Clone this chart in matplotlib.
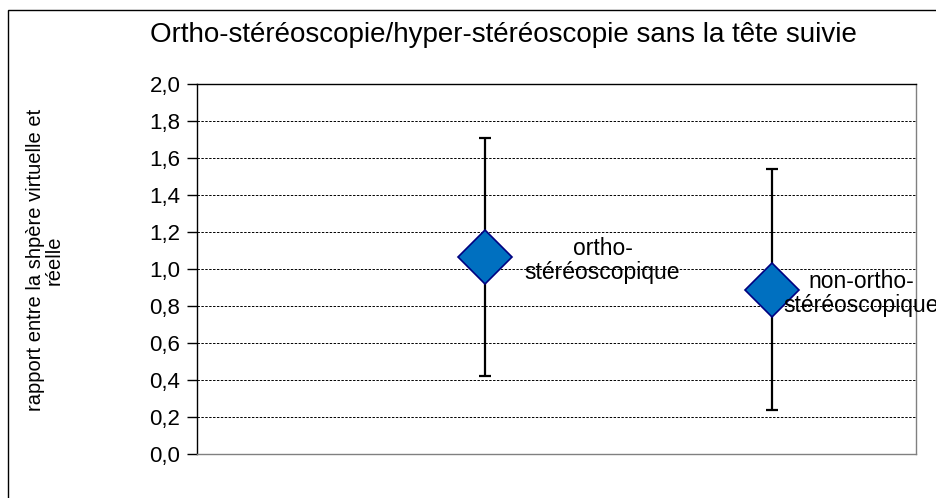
# scatter with error bars: ortho vs non-ortho stereoscopy ratio

import numpy as np
import matplotlib
matplotlib.use("Agg")
import matplotlib.pyplot as plt
from matplotlib.patches import Rectangle

plt.rcParams['font.family'] = ['Liberation Sans', 'DejaVu Sans']

# data
conditions = ['ortho-\nstéréoscopique', 'non-ortho-\nstéréoscopique']
x_pos = [1, 2]
ratio = [1.065, 0.886]
err_low = [0.42, 0.24]
err_high = [1.71, 1.54]
y_ticks = [0.0, 0.2, 0.4, 0.6, 0.8, 1.0, 1.2, 1.4, 1.6, 1.8, 2.0]

title = "Ortho-stéréoscopie/hyper-stéréoscopie sans la tête suivie"
ylabel = "rapport entre la shpère virtuelle et\nréelle"

# label offsets (data units) -- the second one got pushed left to fit
label_dx = [0.41, 0.31]

fig = plt.figure(figsize=(9.36, 4.98), dpi=100)
ax = fig.add_axes([197/936, 44/498, 719/936, 370/498])

# outer chart border (only top/left visible, rest cropped)
fig.add_artist(Rectangle((8/936, -0.2), 1.2, (488/498) + 0.2,
                         transform=fig.transFigure, fill=False,
                         edgecolor='black', linewidth=1.0))

yerr = np.array([[r - lo for r, lo in zip(ratio, err_low)],
                 [hi - r for r, hi in zip(ratio, err_high)]])
ax.errorbar(x_pos, ratio, yerr=yerr, fmt='none', ecolor='black',
            elinewidth=1.6, capsize=4, capthick=1.6, zorder=3)
ax.plot(x_pos, ratio, linestyle='none', marker='D', markersize=27,
        markerfacecolor='#0070C0', markeredgecolor='#000080',
        markeredgewidth=1.2, zorder=4)

for x, y, lab, dx in zip(x_pos, ratio, conditions, label_dx):
    ax.annotate(lab, (x, y), xytext=(x + dx, y - 0.02), ha='center', va='center',
                fontsize=16.5, linespacing=1.05, zorder=5, annotation_clip=False)

ax.set_xlim(0, 2.5)
ax.set_ylim(0, 2.0)
ax.set_yticks(y_ticks)
ax.set_yticklabels([f"{t:.1f}".replace('.', ',') for t in y_ticks], fontsize=16)
ax.set_xticks([])
ax.tick_params(axis='y', direction='out', length=7, width=1, pad=5)

for t in y_ticks[1:-1]:
    ax.axhline(t, color='black', linewidth=0.7, linestyle=(0, (2.5, 1.5)), zorder=1)

ax.spines['left'].set_color('black')
ax.spines['top'].set_color('black')
ax.spines['right'].set_color('#808080')
ax.spines['bottom'].set_color('#808080')
for s in ax.spines.values():
    s.set_linewidth(1.0)

fig.text(503/936, 1 - 35/498, title, ha='center', va='center', fontsize=20)
fig.text(45/936, 1 - 260/498, ylabel, rotation=90, ha='center', va='center',
         fontsize=14.5, linespacing=1.0)

fig.savefig('out.png', dpi=100)
